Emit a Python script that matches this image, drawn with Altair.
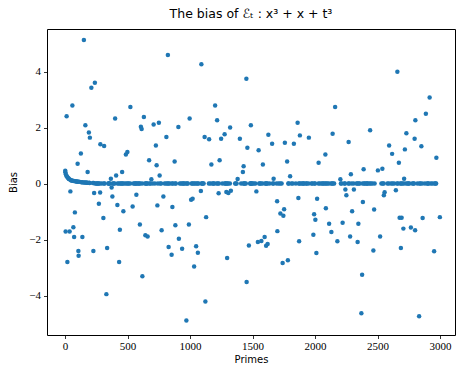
import altair as alt
import pandas as pd

title_text = "The bias of ℰₜ : x³ + x + t³"

primes = [
    2, 3, 5, 7, 11, 13, 17, 19, 23, 29, 31, 37, 41, 43, 47, 53, 59, 61, 67, 71, 73, 79, 83, 89, 97,
    101, 103, 107, 109, 113, 127, 131, 137, 139, 149, 151, 157, 163, 167, 173, 179, 181, 191, 193, 197, 199,
    211, 223, 227, 229, 233, 239, 241, 251, 257, 263, 269, 271, 277, 281, 283, 293,
    307, 311, 313, 317, 331, 337, 347, 349, 353, 359, 367, 373, 379, 383, 389, 397,
    401, 409, 419, 421, 431, 433, 439, 443, 449, 457, 461, 463, 467, 479, 487, 491, 499,
    503, 509, 521, 523, 541, 547, 557, 563, 569, 571, 577, 587, 593, 599,
    601, 607, 613, 617, 619, 631, 641, 643, 647, 653, 659, 661, 673, 677, 683, 691,
    701, 709, 719, 727, 733, 739, 743, 751, 757, 761, 769, 773, 787, 797,
    809, 811, 821, 823, 827, 829, 839, 853, 857, 859, 863, 877, 881, 883, 887,
    907, 911, 919, 929, 937, 941, 947, 953, 967, 971, 977, 983, 991, 997,
    1009, 1013, 1019, 1021, 1031, 1033, 1039, 1049, 1051, 1061, 1063, 1069, 1087, 1091, 1093, 1097,
    1103, 1109, 1117, 1123, 1129, 1151, 1153, 1163, 1171, 1181, 1187, 1193,
    1201, 1213, 1217, 1223, 1229, 1231, 1237, 1249, 1259, 1277, 1279, 1283, 1289, 1291, 1297,
    1301, 1303, 1307, 1319, 1321, 1327, 1361, 1367, 1373, 1381, 1399,
    1409, 1423, 1427, 1429, 1433, 1439, 1447, 1451, 1453, 1459, 1471, 1481, 1483, 1487, 1489, 1493, 1499,
    1511, 1523, 1531, 1543, 1549, 1553, 1559, 1567, 1571, 1579, 1583, 1597,
    1601, 1607, 1609, 1613, 1619, 1621, 1627, 1637, 1657, 1663, 1667, 1669, 1693, 1697, 1699,
    1709, 1721, 1723, 1733, 1741, 1747, 1753, 1759, 1777, 1783, 1787, 1789,
    1801, 1811, 1823, 1831, 1847, 1861, 1867, 1871, 1873, 1877, 1879, 1889,
    1901, 1907, 1913, 1931, 1933, 1949, 1951, 1973, 1979, 1987, 1993, 1997, 1999,
    2003, 2011, 2017, 2027, 2029, 2039, 2053, 2063, 2069, 2081, 2083, 2087, 2089, 2099,
    2111, 2113, 2129, 2131, 2137, 2141, 2143, 2153, 2161, 2179,
    2203, 2207, 2213, 2221, 2237, 2239, 2243, 2251, 2267, 2269, 2273, 2281, 2287, 2293, 2297,
    2309, 2311, 2333, 2339, 2341, 2347, 2351, 2357, 2371, 2377, 2381, 2383, 2389, 2393, 2399,
    2411, 2417, 2423, 2437, 2441, 2447, 2459, 2467, 2473, 2477,
    2503, 2521, 2531, 2539, 2543, 2549, 2551, 2557, 2579, 2591, 2593,
    2609, 2617, 2621, 2633, 2647, 2657, 2659, 2663, 2671, 2677, 2683, 2687, 2689, 2693, 2699,
    2707, 2711, 2713, 2719, 2729, 2731, 2741, 2749, 2753, 2767, 2777, 2789, 2791, 2797,
    2801, 2803, 2819, 2833, 2837, 2843, 2851, 2857, 2861, 2879, 2887, 2897,
    2903, 2909, 2917, 2927, 2939, 2953, 2957, 2963, 2969, 2971, 2999,
]

# scattered (non-zero) biases: approximate prime, bias
scatter_x = [
    152, 824, 240, 213, 59, 13, 525, 400, 632, 165, 192, 200, 605, 613, 712, 752, 909, 811, 288, 315,
    725, 125, 499, 488, 101, 672, 731, 877, 181, 459, 413, 757, 365, 693,
    1091, 1451, 1205, 1000, 1219, 1323, 1488, 1117, 1157, 1251, 1277, 1403, 1464, 1549, 1629, 1656,
    1760, 1829, 1861, 1883, 1955, 1171, 1237, 1429, 1424, 1384, 1584, 1776, 1669, 1803,
    2661, 2920, 2160, 2885, 2805, 2141, 2269, 2440, 2733, 2795, 2853, 2595, 2619, 2720, 2973, 2029,
    2083, 2672, 2288, 2387, 2507, 2541, 2715, 2200,
    43, 232, 280, 368, 379, 272, 419, 80, 467, 307, 539, 571, 736, 787, 859, 5, 35, 67, 73, 139,
    107, 109, 19, 227, 341, 433, 439, 597, 643, 661, 773, 619, 333, 829, 853, 883, 911,
    1008, 1026, 1088, 1229, 1291, 1307, 1328, 1531, 1696, 1723, 1749, 1757, 1867, 1128, 989, 939,
    1048, 1064, 1035, 1123, 971, 1297, 1470, 1456, 1544, 1571, 1597, 1611, 1621, 1701, 1741, 1781, 1874,
    2243, 2256, 2315, 2016, 2088, 1992, 2003, 2117, 2133, 2221, 2296, 2349, 2386, 2474, 2554, 2562,
    2648, 2680, 2693, 2707, 2768, 2800, 2861, 2999, 1987, 2013, 2181, 2280, 2341, 2467, 2520, 2688,
    2952, 2379, 2373, 2832,
]
scatter_y = [
    5.13, 4.59, 3.60, 3.42, 2.79, 2.40, 2.73, 2.32, 2.38, 2.08, 1.82, 1.64, 2.03, 1.95, 2.11, 2.17, 2.02, 1.66, 1.40, 1.34,
    1.36, 1.07, 1.13, 1.04, 0.71, 0.83, 0.65, 0.79, 0.41, 0.41, 0.29, 0.29, 0.17, 0.15,
    4.26, 3.74, 2.79, 2.32, 2.26, 2.00, 2.08, 1.66, 1.58, 1.60, 1.76, 1.60, 1.28, 1.19, 1.74, 1.42,
    1.46, 1.42, 2.17, 1.72, 1.64, 0.68, 0.83, 0.62, 0.41, 0.16, 0.68, 0.79, 0.17, 0.26,
    3.99, 3.07, 2.73, 2.49, 2.26, 1.78, 1.48, 1.90, 1.80, 1.60, 1.33, 1.36, 1.06, 1.22, 0.92, 0.74,
    1.04, 0.74, 0.33, 0.51, 0.47, 0.53, 0.17, 0.15,
    -0.28, -0.34, -0.32, -0.14, -0.46, -0.72, -0.77, -1.03, -0.99, -1.23, -0.82, -0.40, -0.78, -0.46, -0.84, -1.71, -1.71, -1.56, -1.91, -1.91,
    -2.41, -2.58, -2.80, -2.41, -2.30, -2.80, -1.65, -1.46, -1.85, -1.89, -1.67, -3.31, -3.95, -2.27, -2.54, -1.49, -1.97,
    -0.58, -0.54, -0.27, -0.35, -0.30, -0.34, -0.26, -0.28, -0.63, -1.07, -1.15, -0.92, -0.52, -1.20, -1.46, -2.33,
    -2.24, -2.47, -2.96, -4.21, -4.89, -2.66, -2.21, -3.52, -2.09, -2.05, -1.91, -2.22, -2.16, -1.70, -2.84, -2.74, -2.06,
    -0.21, -0.42, -0.21, -0.54, -0.88, -1.10, -1.29, -1.44, -1.73, -1.40, -0.99, -1.44, -0.66, -0.93, -0.42, -0.31,
    -0.24, -1.22, -1.22, -1.61, -1.57, -1.67, -1.23, -1.20, -1.83, -2.48, -2.06, -1.89, -2.09, -2.39, -1.89, -2.30,
    -2.42, -3.26, -4.63, -4.74,
]

# near-zero band: values of the first band points (small primes), rest at 0
band_head = [0.46, 0.40, 0.33, 0.28, 0.24, 0.21, 0.18, 0.16, 0.14, 0.12, 0.11, 0.10, 0.09, 0.08,
             0.07, 0.07, 0.06, 0.06, 0.05, 0.05, 0.04, 0.04, 0.04, 0.03, 0.03, 0.03, 0.02, 0.02, 0.02]
band_rest = 0.0

x_ticks = [0, 500, 1000, 1500, 2000, 2500, 3000]
y_ticks = [-4, -2, 0, 2, 4]

# assign each scattered value to the nearest free prime
taken = set()
rows = []
for sx, sy in zip(scatter_x, scatter_y):
    best = min((p for p in primes if p not in taken), key=lambda p: abs(p - sx))
    taken.add(best)
    rows.append({"p": best, "bias": sy})
band_primes = [p for p in primes if p not in taken]
for i, p in enumerate(band_primes):
    rows.append({"p": p, "bias": band_head[i] if i < len(band_head) else band_rest})
df = pd.DataFrame(rows)

chart = alt.Chart(df).mark_circle(size=20, color="#1f77b4", opacity=1).encode(
    x=alt.X("p:Q",
            scale=alt.Scale(domain=[-144, 3120], nice=False, zero=False),
            axis=alt.Axis(values=x_ticks, title="Primes", grid=False, domain=False,
                          labelFont="Liberation Serif", labelFontSize=11, labelColor="black",
                          tickColor="black", tickSize=3.5, tickWidth=0.8, labelPadding=2,
                          titleFont="DejaVu Sans", titleFontSize=10, titleFontWeight="normal",
                          titleColor="black", titlePadding=3, format="d")),
    y=alt.Y("bias:Q",
            scale=alt.Scale(domain=[-5.41, 5.52], nice=False, zero=False),
            axis=alt.Axis(values=y_ticks, title="Bias", grid=False, domain=False,
                          labelFont="Liberation Serif", labelFontSize=11, labelColor="black",
                          tickColor="black", tickSize=3.5, tickWidth=0.8, labelPadding=3,
                          labelExpr="replace(datum.label, '-', '−')",
                          titleFont="DejaVu Sans", titleFontSize=10, titleFontWeight="normal",
                          titleColor="black", titlePadding=10, format="d")),
).properties(
    width=408, height=306,
    title=alt.TitleParams(title_text, font="DejaVu Sans", fontSize=12.5, fontWeight="normal",
                          color="black", anchor="middle", offset=9),
    autosize=alt.AutoSizeParams(type="none"),
    padding={"left": 47, "top": 29, "right": 2, "bottom": 31},
).configure_view(stroke="black", strokeWidth=1)

chart.save("out.html", embed_options={"renderer": "svg", "actions": False})
